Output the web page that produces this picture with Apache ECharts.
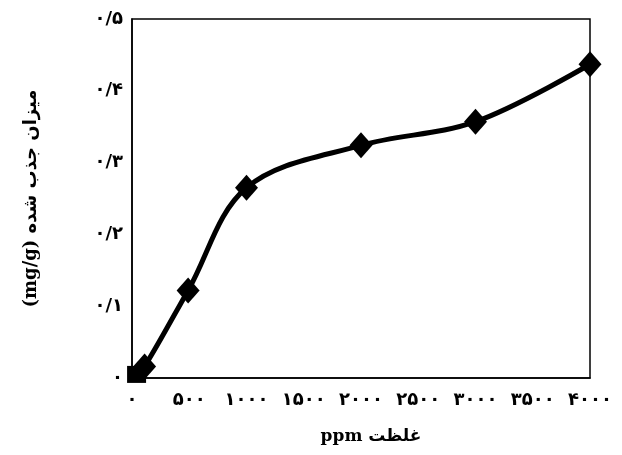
<!DOCTYPE html>
<html><head><meta charset="utf-8">
<script src="https://cdn.jsdelivr.net/npm/echarts@6/dist/echarts.min.js"></script>
<style>html,body{margin:0;padding:0;background:#fff}#c{width:622px;height:455px}</style>
</head><body><div id="c"></div>
<script>
var xValues = [40, 110, 490, 1000, 2000, 3000, 4000];
var yValues = [0.005, 0.016, 0.122, 0.265, 0.324, 0.357, 0.437];
var xTickValues = [0, 500, 1000, 1500, 2000, 2500, 3000, 3500, 4000];
var xTickLabels = ['۰', '۵۰۰', '۱۰۰۰', '۱۵۰۰', '۲۰۰۰', '۲۵۰۰', '۳۰۰۰', '۳۵۰۰', '۴۰۰۰'];
var yTickValues = [0, 0.1, 0.2, 0.3, 0.4, 0.5];
var yTickLabels = ['۰', '۰/۱', '۰/۲', '۰/۳', '۰/۴', '۰/۵'];
var xTitle = 'ppm غلظت';
var yTitle = '(mg/g) میزان جذب شده';

function lab(vals, labels) {
  return function (v) {
    for (var i = 0; i < vals.length; i++) if (Math.abs(vals[i] - v) < 1e-6) return labels[i];
    return '';
  };
}
var pts = xValues.map(function (x, i) {
  var p = { value: [x, yValues[i]] };
  if (i === 0) { p.symbol = 'rect'; p.symbolSize = [19, 17]; }
  return p;
});
var chart = echarts.init(document.getElementById('c'), null, { renderer: 'canvas' });
chart.setOption({
  animation: false,
  backgroundColor: '#fff',
  grid: { left: 132, right: 32, top: 19, bottom: 77, show: true, borderColor: '#000', borderWidth: 1.5, backgroundColor: 'transparent' },
  xAxis: {
    type: 'value', min: 0, max: 4000, interval: 500,
    axisLine: { show: true, lineStyle: { color: '#000', width: 1.5 } },
    axisTick: { show: false }, splitLine: { show: false },
    axisLabel: { formatter: lab(xTickValues, xTickLabels), color: '#000', fontFamily: 'DejaVu Sans', fontWeight: 'bold', fontSize: 18, margin: 13 },
    name: xTitle, nameLocation: 'middle', nameGap: 50,
    nameTextStyle: { color: '#000', fontFamily: 'DejaVu Serif, DejaVu Sans', fontWeight: 'bold', fontSize: 17, padding: [0, 0, 0, 20] }
  },
  yAxis: {
    type: 'value', min: 0, max: 0.5, interval: 0.1,
    axisLine: { show: true, lineStyle: { color: '#000', width: 1.5 } },
    axisTick: { show: false }, splitLine: { show: false },
    axisLabel: { formatter: lab(yTickValues, yTickLabels), color: '#000', fontFamily: 'DejaVu Sans', fontWeight: 'bold', fontSize: 18, margin: 9 },
    name: yTitle, nameLocation: 'middle', nameGap: 92, nameRotate: 90,
    nameTextStyle: { color: '#000', fontFamily: 'DejaVu Serif, DejaVu Sans', fontWeight: 'bold', fontSize: 18 }
  },
  series: [{
    type: 'line', data: pts, smooth: 0.35,
    symbol: 'diamond', symbolSize: [23, 26],
    lineStyle: { color: '#000', width: 5 },
    itemStyle: { color: '#000' },
    clip: false
  }]
});
</script></body></html>
